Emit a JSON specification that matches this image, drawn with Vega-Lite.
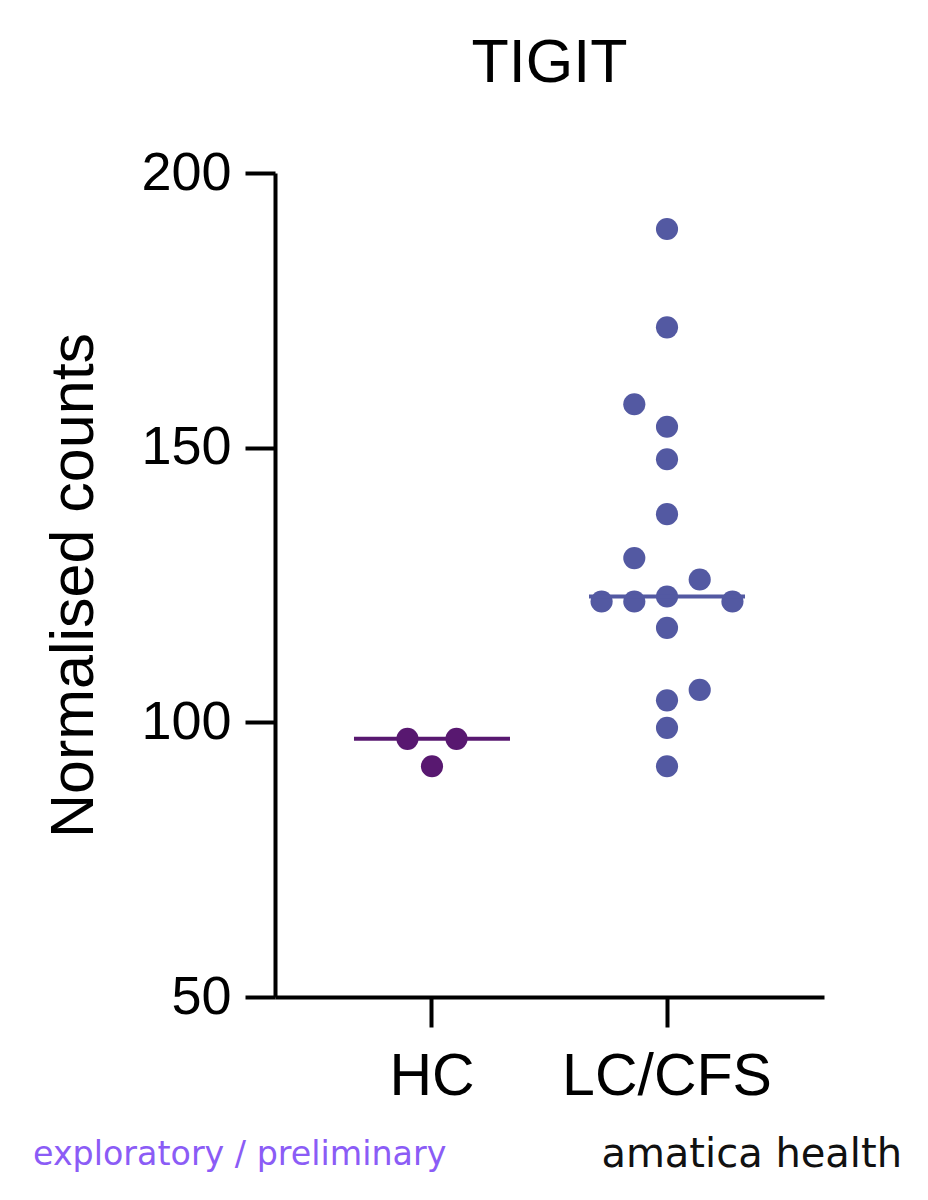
{
  "$schema": "https://vega.github.io/schema/vega-lite/v6.json",
  "width": 549,
  "height": 824,
  "autosize": {"type": "none"},
  "padding": {"left": 275, "top": 173, "right": 104, "bottom": 203},
  "background": "white",
  "title": {"text": "TIGIT", "anchor": "middle", "frame": "group", "baseline": "alphabetic", "offset": 3, "fontSize": 61, "font": "Liberation Sans", "fontWeight": "normal", "color": "black"},
  "config": {
    "view": {"stroke": null},
    "axis": {"grid": false, "domainColor": "black", "tickColor": "black", "labelColor": "black", "titleColor": "black", "labelFont": "Liberation Sans", "titleFont": "Liberation Sans", "domainWidth": 4, "tickWidth": 4, "tickSize": 30, "labelLimit": 0}
  },
  "data": {"values": [
    {"group": "HC", "count": 97.0, "slot": -0.75},
    {"group": "HC", "count": 97.0, "slot": 0.75},
    {"group": "HC", "count": 92.0, "slot": 0},
    {"group": "LC/CFS", "count": 189.8, "slot": 0},
    {"group": "LC/CFS", "count": 171.9, "slot": 0},
    {"group": "LC/CFS", "count": 157.9, "slot": -1},
    {"group": "LC/CFS", "count": 153.8, "slot": 0},
    {"group": "LC/CFS", "count": 147.9, "slot": 0},
    {"group": "LC/CFS", "count": 137.9, "slot": 0},
    {"group": "LC/CFS", "count": 129.9, "slot": -1},
    {"group": "LC/CFS", "count": 126.0, "slot": 1},
    {"group": "LC/CFS", "count": 122.0, "slot": -2},
    {"group": "LC/CFS", "count": 122.0, "slot": -1},
    {"group": "LC/CFS", "count": 122.9, "slot": 0},
    {"group": "LC/CFS", "count": 122.0, "slot": 2},
    {"group": "LC/CFS", "count": 117.2, "slot": 0},
    {"group": "LC/CFS", "count": 105.9, "slot": 1},
    {"group": "LC/CFS", "count": 104.0, "slot": 0},
    {"group": "LC/CFS", "count": 99.0, "slot": 0},
    {"group": "LC/CFS", "count": 92.0, "slot": 0}
  ]},
  "layer": [
    {
      "mark": {"type": "circle", "opacity": 1, "size": 490},
      "encoding": {
        "x": {"field": "group", "type": "nominal", "sort": ["HC", "LC/CFS"], "scale": {"paddingInner": 0, "paddingOuter": 0.168}, "axis": {"labelAngle": 0, "labelFontSize": 59, "labelPadding": 20, "title": null}},
        "xOffset": {"field": "slot", "type": "quantitative", "scale": {"domain": [-3.593, 3.593]}},
        "y": {"field": "count", "type": "quantitative", "scale": {"domain": [50, 200], "nice": false, "zero": false}, "axis": {"values": [50, 100, 150, 200], "labelFontSize": 54, "labelPadding": 14, "title": "Normalised counts", "titleFontSize": 61, "titleFontWeight": "normal", "titleBaseline": "alphabetic", "titlePadding": 48}},
        "color": {"field": "group", "type": "nominal", "scale": {"domain": ["HC", "LC/CFS"], "range": ["#581870", "#5359A2"]}, "legend": null}
      }
    },
    {
      "mark": {"type": "tick", "size": 156, "thickness": 4},
      "encoding": {
        "x": {"field": "group", "type": "nominal", "sort": ["HC", "LC/CFS"]},
        "y": {"aggregate": "median", "field": "count", "type": "quantitative"},
        "color": {"field": "group", "type": "nominal", "legend": null}
      }
    },
    {
      "data": {"values": [{"note": "exploratory / preliminary"}]},
      "mark": {"type": "text", "align": "left", "baseline": "alphabetic", "font": "DejaVu Sans", "fontSize": 33.3, "color": "#8B5CF6"},
      "encoding": {"text": {"field": "note"}, "x": {"value": -242}, "y": {"value": 992}}
    },
    {
      "data": {"values": [{"note": "amatica health"}]},
      "mark": {"type": "text", "align": "right", "baseline": "alphabetic", "font": "DejaVu Sans", "fontSize": 40, "color": "#111111"},
      "encoding": {"text": {"field": "note"}, "x": {"value": 627}, "y": {"value": 994}}
    }
  ]
}
